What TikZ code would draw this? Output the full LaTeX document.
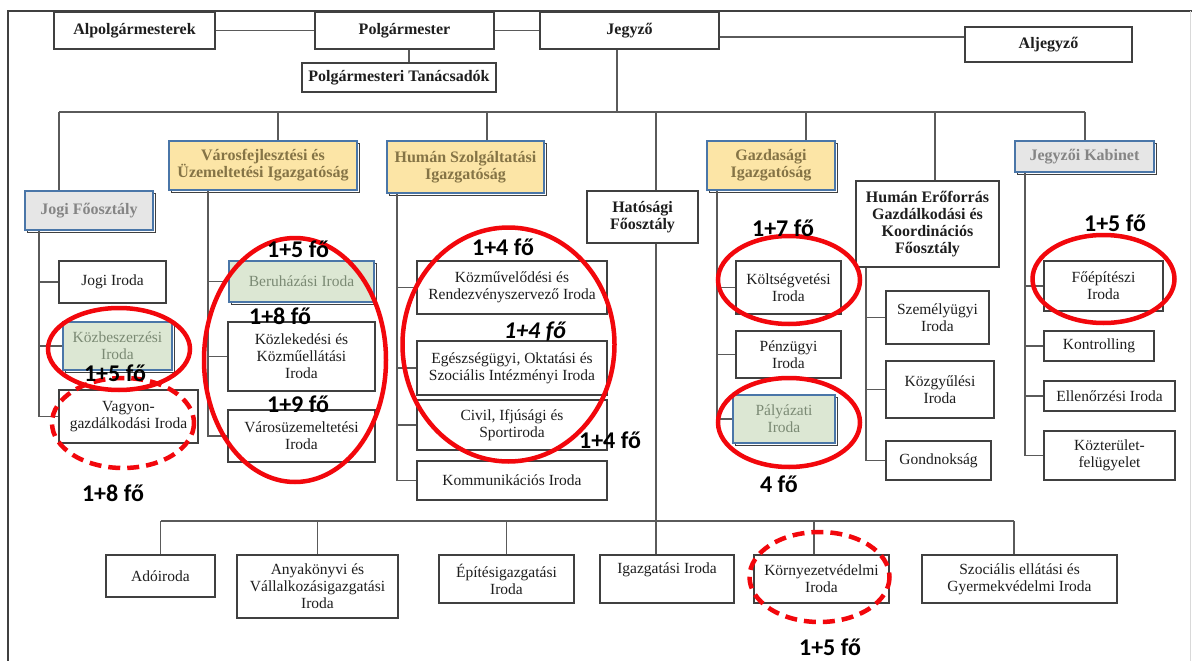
\documentclass[tikz,border=0pt]{standalone}
\usepackage{fontspec}
\setmainfont{Liberation Serif}
\newfontfamily\labfont{Carlito}
\usetikzlibrary{shadows}
\definecolor{ln}{HTML}{5A5A5A}
\definecolor{bd}{HTML}{404040}
\definecolor{txt}{HTML}{1E1E1E}
\definecolor{bl}{HTML}{4A76A8}
\definecolor{yl}{HTML}{FCE5A6}
\definecolor{yt}{HTML}{857446}
\definecolor{gf}{HTML}{E6E6E6}
\definecolor{gt}{HTML}{858585}
\definecolor{grf}{HTML}{DCE7D3}
\definecolor{grt}{HTML}{7B8A74}
\definecolor{rd}{HTML}{F2070C}
\begin{document}
\begin{tikzpicture}[x=1pt,y=-1pt,
 every node/.style={inner sep=1pt},
 conn/.style={draw=ln, line width=1.1pt},
 box/.style={draw=bd, line width=1.1pt, fill=white, align=center, text=txt, font=\fontsize{15.5}{17}\selectfont},
 hbox/.style={box, font=\fontsize{16}{17}\selectfont\bfseries},
 hl/.style={draw=bl, line width=2.4pt, general shadow={shadow xshift=2.5pt, shadow yshift=-2.5pt, draw=bd, line width=0.9pt, fill=white}},
 ybox/.style={hbox, hl, fill=yl, text=yt},
 gbox/.style={hbox, hl, fill=gf, text=gt},
 grbox/.style={box, hl, fill=grf, text=grt},
 oval/.style={draw=rd, line width=4.5pt},
 dashoval/.style={oval, dash pattern=on 12pt off 7pt},
 lab/.style={font=\labfont\bfseries\fontsize{24}{24}\selectfont, text=black},
]
\useasboundingbox (0,0) rectangle (1192,661);
\fill[white] (0,0) rectangle (1192,661);
% frame
\draw[line width=1.6pt, black!75] (8,661) -- (8,11) -- (1192,11);
\draw[line width=0.8pt, black!15] (1190,11) -- (1190,661);

% top row
\node[hbox, minimum width=161, minimum height=37] (alpol) at (134.5,30.5) {Alpolgármesterek};
\node[hbox, minimum width=179, minimum height=37] (polg) at (404.5,30.5) {Polgármester};
\node[hbox, minimum width=179, minimum height=37] (jegyzo) at (629.5,30.5) {Jegyző};
\node[hbox, minimum width=167, minimum height=35] (aljegyzo) at (1048.5,44.5) {Aljegyző};
\node[hbox, minimum width=194, minimum height=29] (tanacs) at (399,77.5) {Polgármesteri Tanácsadók};

% level 2
\node[gbox, minimum width=128, minimum height=39] (jogif) at (89,210.5) {Jogi Főosztály};
\node[ybox, minimum width=188, minimum height=49] (varos) at (263,165.5) {Városfejlesztési és\\Üzemeltetési Igazgatóság};
\node[ybox, minimum width=157, minimum height=52] (human) at (465.5,167) {Humán Szolgáltatási\\Igazgatóság};
\node[hbox, minimum width=111, minimum height=52] (hatos) at (642.5,217) {Hatósági\\Főosztály};
\node[ybox, minimum width=128, minimum height=49] (gazd) at (771,165.5) {Gazdasági\\Igazgatóság};
\node[hbox, minimum width=143, minimum height=86] (humef) at (927.5,224) {Humán Erőforrás\\Gazdálkodási és\\Koordinációs\\Főosztály};
\node[gbox, minimum width=139, minimum height=31] (jkab) at (1084.5,156.5) {Jegyzői Kabinet};

% level 3
\node[box, minimum width=107, minimum height=42] (jiroda) at (112.5,282) {Jogi Iroda};
\node[grbox, minimum width=109, minimum height=48] (kozbesz) at (117.5,346) {Közbeszerzési\\Iroda};
\node[box, minimum width=139, minimum height=53] (vagyon) at (128.5,416.5) {Vagyon-\\gazdálkodási Iroda};
\node[grbox, minimum width=145, minimum height=41] (beruh) at (301.5,281.5) {Beruházási Iroda};
\node[box, minimum width=147, minimum height=69] (kozlek) at (301.5,356.5) {Közlekedési és\\Közműellátási\\Iroda};
\node[box, minimum width=147, minimum height=52] (varosuz) at (301.5,436) {Városüzemeltetési\\Iroda};
\node[box, minimum width=190, minimum height=53] (kozmuv) at (512,287.5) {Közművelődési és\\Rendezvényszervező Iroda};
\node[box, minimum width=190, minimum height=54] (egesz) at (512,368) {Egészségügyi, Oktatási és\\Szociális Intézményi Iroda};
\node[box, minimum width=190, minimum height=50] (civil) at (512,425) {Civil, Ifjúsági és\\Sportiroda};
\node[box, minimum width=190, minimum height=39] (komm) at (512,480.5) {Kommunikációs Iroda};
\node[box, minimum width=105, minimum height=53] (koltseg) at (788.5,287.5) {Költségvetési\\Iroda};
\node[box, minimum width=105, minimum height=47] (penzugy) at (788.5,354.5) {Pénzügyi\\Iroda};
\node[grbox, minimum width=102, minimum height=48] (palyaz) at (784,419) {Pályázati\\Iroda};
\node[box, minimum width=103, minimum height=53] (szemely) at (937.5,317.5) {Személyügyi\\Iroda};
\node[box, minimum width=108, minimum height=57] (kozgyul) at (940,389.5) {Közgyűlési\\Iroda};
\node[box, minimum width=105, minimum height=39] (gondn) at (938.5,460.5) {Gondnokság};
\node[box, minimum width=119, minimum height=50] (foepit) at (1103.5,286) {Főépítészi\\Iroda};
\node[box, minimum width=110, minimum height=30] (kontr) at (1099,346) {Kontrolling};
\node[box, minimum width=131, minimum height=30] (ellen) at (1109.5,396) {Ellenőrzési Iroda};
\node[box, minimum width=131, minimum height=49] (kozter) at (1109.5,455.5) {Közterület-\\felügyelet};

% bottom row
\node[box, minimum width=109, minimum height=42] (ado) at (160.5,576) {Adóiroda};
\node[box, minimum width=161, minimum height=63] (anyak) at (317.5,586.5) {Anyakönyvi és\\Vállalkozásigazgatási\\Iroda};
\node[box, minimum width=135, minimum height=48] (epites) at (506.5,579) {Építésigazgatási\\Iroda};
\node[box, minimum width=134, minimum height=48] (igazg) at (667,579) {Igazgatási Iroda\\\strut};
\node[box, minimum width=135, minimum height=48] (kornyez) at (821.5,579) {Környezetvédelmi\\Iroda};
\node[box, minimum width=195, minimum height=48] (szoc) at (1019.5,579) {Szociális ellátási és\\Gyermekvédelmi Iroda};

% connectors top
\draw[conn] (alpol.east) -- (polg.west);
\draw[conn] (polg.east) -- (jegyzo.west);
\coordinate (jy) at (0,37);
\draw[conn] (jegyzo.east |- jy) -- (aljegyzo.west |- jy);
\coordinate (tx) at (409,0);
\draw[conn] (polg.south -| tx) -- (tanacs.north -| tx);
\coordinate (jx) at (617,0);
\coordinate (bus) at (0,112);
\draw[conn] (jegyzo.south -| jx) -- (jx |- bus);
\coordinate (d1) at (59,112);
\coordinate (d2) at (278,112);
\coordinate (d3) at (487,112);
\coordinate (d4) at (656,112);
\coordinate (d5) at (806,112);
\coordinate (d6) at (935,112);
\coordinate (d7) at (1085,112);
\draw[conn] (d1) -- (d7);
\draw[conn] (d1) -- (d1 |- jogif.north);
\draw[conn] (d2) -- (d2 |- varos.north);
\draw[conn] (d3) -- (d3 |- human.north);
\draw[conn] (d4) -- (d4 |- hatos.north);
\draw[conn] (d5) -- (d5 |- gazd.north);
\draw[conn] (d6) -- (d6 |- humef.north);
\draw[conn] (d7) -- (d7 |- jkab.north);

% side lines
\coordinate (s1) at (39,0);
\draw[conn] (jogif.south -| s1) -- (s1 |- vagyon.west) -- (vagyon.west);
\draw[conn] (s1 |- jiroda.west) -- (jiroda.west);
\draw[conn] (s1 |- kozbesz.west) -- (kozbesz.west);
\coordinate (s2) at (208,0);
\draw[conn] (varos.south -| s2) -- (s2 |- varosuz.west) -- (varosuz.west);
\draw[conn] (s2 |- beruh.west) -- (beruh.west);
\draw[conn] (s2 |- kozlek.west) -- (kozlek.west);
\coordinate (s3) at (397,0);
\draw[conn] (human.south -| s3) -- (s3 |- komm.west) -- (komm.west);
\draw[conn] (s3 |- kozmuv.west) -- (kozmuv.west);
\draw[conn] (s3 |- egesz.west) -- (egesz.west);
\draw[conn] (s3 |- civil.west) -- (civil.west);
\coordinate (s4) at (717,0);
\draw[conn] (gazd.south -| s4) -- (s4 |- palyaz.west) -- (palyaz.west);
\draw[conn] (s4 |- koltseg.west) -- (koltseg.west);
\draw[conn] (s4 |- penzugy.west) -- (penzugy.west);
\coordinate (s5) at (866,0);
\draw[conn] (humef.south -| s5) -- (s5 |- gondn.west) -- (gondn.west);
\draw[conn] (s5 |- szemely.west) -- (szemely.west);
\draw[conn] (s5 |- kozgyul.west) -- (kozgyul.west);
\coordinate (s6) at (1025,0);
\draw[conn] (jkab.south -| s6) -- (s6 |- kozter.west) -- (kozter.west);
\draw[conn] (s6 |- foepit.west) -- (foepit.west);
\draw[conn] (s6 |- kontr.west) -- (kontr.west);
\draw[conn] (s6 |- ellen.west) -- (ellen.west);

% lower bus
\coordinate (lb) at (0,521);
\coordinate (kx) at (814,0);
\coordinate (sx) at (1014,0);
\draw[conn] (d4 |- hatos.south) -- (d4 |- igazg.north);
\draw[conn] (ado.north |- lb) -- (sx |- lb);
\draw[conn] (ado.north |- lb) -- (ado.north);
\draw[conn] (anyak.north |- lb) -- (anyak.north);
\draw[conn] (epites.north |- lb) -- (epites.north);
\draw[conn] (kx |- lb) -- (kx |- kornyez.north);
\draw[conn] (sx |- lb) -- (sx |- szoc.north);

% red marks
\draw[oval] (119,349) ellipse [x radius=71, y radius=41];
\draw[dashoval] (123,423) ellipse [x radius=71, y radius=45];
\draw[oval] (295,360) ellipse [x radius=91, y radius=122];
\draw[oval] (508.5,344.5) ellipse [x radius=106, y radius=117];
\draw[oval] (789,280) ellipse [x radius=71, y radius=44];
\draw[oval] (789,422.5) ellipse [x radius=71, y radius=44.5];
\draw[oval] (1103.5,279) ellipse [x radius=71, y radius=44];
\draw[dashoval] (819.5,577) ellipse [x radius=70, y radius=45];

% labels
\node[lab] (l1) at (298,249) {1+5 fő};
\node[lab] (l2) at (280,316) {1+8 fő};
\node[lab] (l3) at (298,404) {1+9 fő};
\node[lab] (l4) at (115,373) {1+5 fő};
\node[lab] (l5) at (113,493) {1+8 fő};
\node[lab] (l6) at (503,247) {1+4 fő};
\node[lab, font=\labfont\bfseries\itshape\fontsize{24}{24}\selectfont] (l7) at (535,332) {1+4 fő};
\node[lab] (l8) at (610,440) {1+4 fő};
\node[lab] (l9) at (783,228) {1+7 fő};
\node[lab] (l10) at (779,484) {4 fő};
\node[lab] (l11) at (1115,223) {1+5 fő};
\node[lab] (l12) at (830,647) {1+5 fő};
\end{tikzpicture}
\end{document}
